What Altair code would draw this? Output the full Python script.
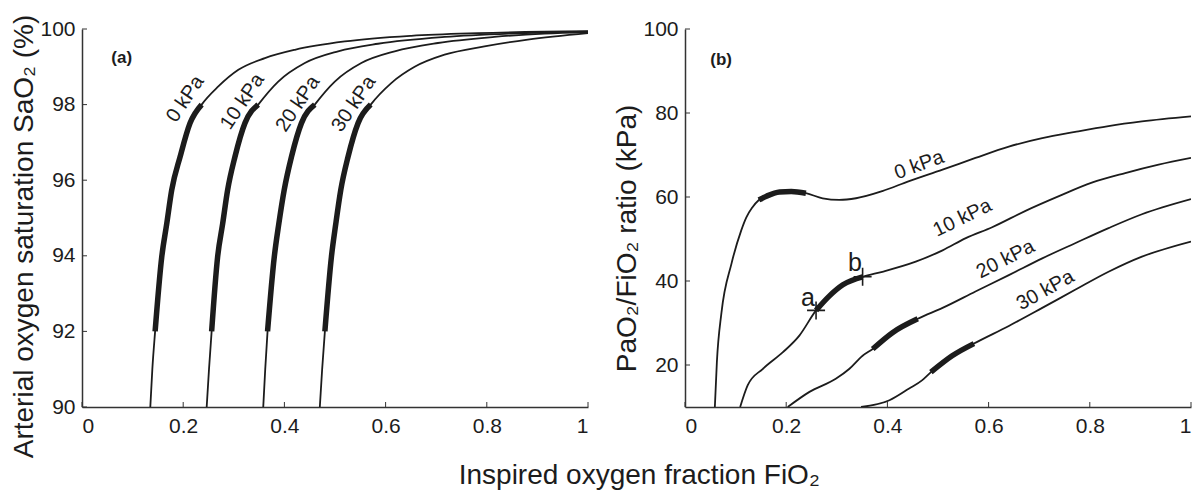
import altair as alt
import pandas as pd

FONT = "Liberation Sans"
INK = "#1c1c1c"
AXIS_INK = "#333333"

CURVES = ["0 kPa", "10 kPa", "20 kPa", "30 kPa"]

# ---------- panel (a): SaO2 (%) vs FiO2 ----------
A0_X = [0.135, 0.139, 0.1445, 0.1576, 0.1675, 0.1773, 0.1939, 0.2136, 0.2365, 0.2694, 0.309, 0.3615, 0.4207, 0.5193, 0.6507, 0.7822, 1.0]
A0_Y = [90.0, 91.0, 92.0, 93.97, 94.85, 95.74, 96.62, 97.51, 98.0, 98.48, 98.92, 99.23, 99.45, 99.67, 99.82, 99.89, 99.94]
A1_X = [0.2464, 0.251, 0.2562, 0.268, 0.278, 0.2878, 0.3023, 0.322, 0.3483, 0.3878, 0.4404, 0.5061, 0.585, 0.7166, 0.848, 1.0]
A1_Y = [90.0, 91.0, 92.0, 93.97, 94.85, 95.74, 96.62, 97.51, 98.0, 98.61, 99.1, 99.41, 99.61, 99.79, 99.88, 99.93]
A2_X = [0.3582, 0.3621, 0.3667, 0.38, 0.389, 0.3996, 0.414, 0.4337, 0.46, 0.4996, 0.552, 0.618, 0.7034, 0.815, 0.914, 1.0]
A2_Y = [90.0, 91.0, 92.0, 93.97, 94.85, 95.74, 96.62, 97.51, 98.0, 98.61, 99.1, 99.41, 99.63, 99.79, 99.88, 99.92]
A3_X = [0.47, 0.4746, 0.48, 0.4929, 0.5016, 0.5114, 0.5258, 0.5456, 0.5706, 0.6112, 0.6574, 0.7166, 0.7954, 0.881, 1.0]
A3_Y = [90.0, 91.0, 92.0, 93.97, 94.85, 95.74, 96.62, 97.51, 98.0, 98.57, 99.0, 99.32, 99.54, 99.72, 99.89]
A_THICK_LOW, A_THICK_HIGH = 92.0, 98.0

A_LABEL_X = [0.204, 0.317, 0.4266, 0.537]
A_LABEL_Y = [98.15, 98.08, 98.02, 98.02]
A_LABEL_ANGLE = [304, 304, 304, 304]

A_X_TICKS = [0, 0.2, 0.4, 0.6, 0.8, 1]
A_Y_TICKS = [90, 92, 94, 96, 98, 100]

# ---------- panel (b): PaO2/FiO2 (kPa) vs FiO2 ----------
B0_X = [0.059, 0.063, 0.072, 0.092, 0.111, 0.121, 0.133, 0.146, 0.161, 0.187, 0.21, 0.239, 0.272, 0.305, 0.338, 0.39, 0.443, 0.509, 0.574, 0.64, 0.706, 0.771, 0.837, 0.903, 1.0]
B0_Y = [10.0, 20.7, 32.4, 44.2, 52.0, 55.1, 57.5, 59.3, 60.2, 61.2, 61.3, 60.9, 59.7, 59.3, 59.7, 61.4, 63.8, 66.5, 69.3, 72.0, 74.0, 75.5, 76.9, 78.0, 79.2]
B1_X = [0.109, 0.124, 0.154, 0.193, 0.226, 0.259, 0.285, 0.312, 0.351, 0.39, 0.456, 0.509, 0.555, 0.607, 0.673, 0.739, 0.804, 0.87, 0.936, 1.0]
B1_Y = [10.0, 15.2, 19.1, 23.0, 27.0, 33.0, 36.4, 39.1, 41.0, 42.2, 44.6, 47.3, 50.2, 52.8, 56.7, 60.2, 63.4, 65.7, 67.7, 69.3]
B2_X = [0.203, 0.246, 0.298, 0.325, 0.351, 0.371, 0.41, 0.46, 0.509, 0.574, 0.64, 0.706, 0.771, 0.837, 0.903, 1.0]
B2_Y = [10.0, 13.6, 16.7, 19.1, 22.2, 23.8, 27.7, 31.0, 33.6, 37.5, 41.4, 45.4, 49.0, 52.6, 55.9, 59.5]
B3_X = [0.348, 0.404, 0.443, 0.469, 0.486, 0.528, 0.571, 0.64, 0.706, 0.771, 0.837, 0.903, 1.0]
B3_Y = [10.0, 11.6, 14.4, 16.4, 18.3, 22.2, 25.1, 29.3, 33.6, 37.9, 42.2, 45.8, 49.4]
B_THICK_START = [0.146, 0.259, 0.371, 0.486]
B_THICK_END = [0.239, 0.351, 0.46, 0.571]

B_LABEL_X = [0.4627, 0.548, 0.6335, 0.712]
B_LABEL_Y = [67.6, 55.0, 45.2, 37.8]
B_LABEL_ANGLE = [340, 334, 333, 331]

MARK_NAMES = ["a", "b"]
MARK_X = [0.259, 0.351]
MARK_Y = [33.0, 41.0]
MARK_LABEL_X = [0.243, 0.336]
MARK_LABEL_Y = [36.0, 44.2]

B_X_TICKS = [0, 0.2, 0.4, 0.6, 0.8, 1]
B_Y_TICKS = [20, 40, 60, 80, 100]

PANEL_TAGS = ["(a)", "(b)"]
TAG_X = [0.058, 0.05]
TAG_Y = [99.24, 92.7]

W, H = 506, 378


def curves_frame(xs, ys):
    rows = []
    for name, xv, yv in zip(CURVES, xs, ys):
        for a, b in zip(xv, yv):
            rows.append({"curve": name, "fio2": a, "val": b})
    return pd.DataFrame(rows)


df_a = curves_frame([A0_X, A1_X, A2_X, A3_X], [A0_Y, A1_Y, A2_Y, A3_Y])
df_a_thick = df_a[(df_a["val"] >= A_THICK_LOW) & (df_a["val"] <= A_THICK_HIGH)]

df_b = curves_frame([B0_X, B1_X, B2_X, B3_X], [B0_Y, B1_Y, B2_Y, B3_Y])
thick_parts = []
for name, s, e in zip(CURVES, B_THICK_START, B_THICK_END):
    sub = df_b[(df_b["curve"] == name) & (df_b["fio2"] >= s - 1e-9) & (df_b["fio2"] <= e + 1e-9)]
    thick_parts.append(sub)
df_b_thick = pd.concat(thick_parts)

X = alt.X("fio2:Q")
Y = alt.Y("val:Q")


def panel(df, df_thick, x_ticks, y_ticks, y_dom, y_title, title_y, lab_x, lab_y, lab_ang, tag, tag_x, tag_y, extra=None):
    xs = alt.Scale(domain=[0, 1], nice=False, zero=False)
    ys = alt.Scale(domain=y_dom, nice=False, zero=False)
    x_enc = alt.X("fio2:Q", scale=xs, axis=alt.Axis(values=x_ticks, format="~g", title=None, labelPadding=8))
    y_enc = alt.Y("val:Q", scale=ys, axis=alt.Axis(values=y_ticks, format="d", title=y_title,
                                                   titleY=title_y, titlePadding=1, labelPadding=7))
    thin = alt.Chart(df).mark_line(interpolate="monotone", color=INK, strokeWidth=1.8, clip=True).encode(
        x=x_enc, y=y_enc, detail="curve:N")
    thick = alt.Chart(df_thick).mark_line(interpolate="monotone", color=INK, strokeWidth=5.5, strokeCap="butt", clip=True).encode(
        x=X, y=Y, detail="curve:N")

    xt = alt.Chart(pd.DataFrame({"fio2": x_ticks})).mark_rule(color=AXIS_INK, strokeWidth=1).encode(
        x=X, y=alt.value(H), y2=alt.value(H - 5))
    yt = alt.Chart(pd.DataFrame({"val": y_ticks})).mark_rule(color=AXIS_INK, strokeWidth=1).encode(
        y=Y, x=alt.value(0), x2=alt.value(5))

    labels = alt.Chart(pd.DataFrame({"fio2": lab_x, "val": lab_y, "t": CURVES, "ang": lab_ang})).mark_text(
        font=FONT, fontSize=20, color=INK, align="center", baseline="middle").encode(
        x=X, y=Y, text="t:N", angle=alt.Angle("ang:Q", scale=None))

    tagl = alt.Chart(pd.DataFrame({"fio2": [tag_x], "val": [tag_y], "t": [tag]})).mark_text(
        font=FONT, fontSize=17, fontWeight="bold", color=INK, align="left", baseline="middle").encode(
        x=X, y=Y, text="t:N")

    layers = [thin, thick, xt, yt, labels, tagl]
    if extra is not None:
        layers += extra()
    return alt.layer(*layers).properties(width=W, height=H)


def markers():
    pts = alt.Chart(pd.DataFrame({"fio2": MARK_X, "val": MARK_Y})).mark_point(
        shape="M-1,0L1,0M0,-1L0,1", size=324, filled=False, strokeWidth=1.6, color=INK, opacity=1).encode(
        x=X, y=Y)
    txt = alt.Chart(pd.DataFrame({"fio2": MARK_LABEL_X, "val": MARK_LABEL_Y, "t": MARK_NAMES})).mark_text(
        font=FONT, fontSize=25, color=INK, align="center", baseline="middle").encode(
        x=X, y=Y, text="t:N")
    return [pts, txt]


left = panel(df_a, df_a_thick, A_X_TICKS, A_Y_TICKS, [90, 100], "Arterial oxygen saturation SaO₂ (%)", 207,
             A_LABEL_X, A_LABEL_Y, A_LABEL_ANGLE, PANEL_TAGS[0], TAG_X[0], TAG_Y[0])
right = panel(df_b, df_b_thick, B_X_TICKS, B_Y_TICKS, [10, 100], "PaO₂/FiO₂ ratio (kPa)", 209,
              B_LABEL_X, B_LABEL_Y, B_LABEL_ANGLE, PANEL_TAGS[1], TAG_X[1], TAG_Y[1], extra=markers)

chart = alt.hconcat(left, right, spacing=97, bounds="flush").properties(
    title=alt.TitleParams("Inspired oxygen fraction FiO₂", orient="bottom", anchor="middle",
                          fontSize=28, font=FONT, fontWeight="normal", color=INK, offset=4, dx=38),
    padding={"left": 2, "top": 6, "right": 0, "bottom": 0},
).configure_view(stroke=None).configure_axis(
    labelFont=FONT, labelFontSize=21, labelColor=INK,
    titleFont=FONT, titleFontSize=28, titleFontWeight="normal", titleColor=INK,
    domainColor=AXIS_INK, domainWidth=1.5, ticks=False, grid=False,
)

chart.save("out.html", embed_options={"renderer": "svg", "actions": False})
